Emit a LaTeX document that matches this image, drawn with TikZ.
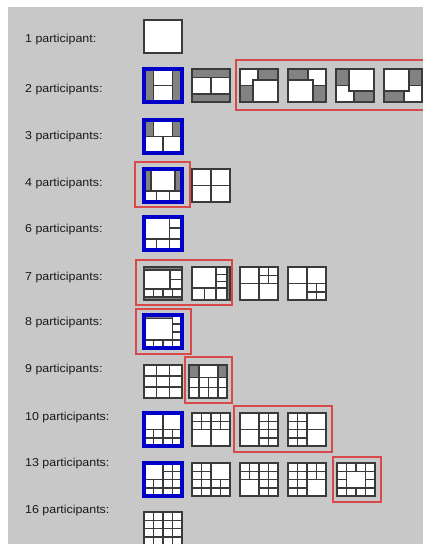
\documentclass[tikz,border=0pt]{standalone}
\usepackage{fontspec}
\setmainfont{Liberation Sans}[FakeStretch=1.08]
\definecolor{bgc}{HTML}{C8C8C8}
\definecolor{icdark}{HTML}{3A3A3A}
\definecolor{icgray}{HTML}{828282}
\definecolor{selblue}{HTML}{0000C8}
\definecolor{selred}{HTML}{D84A4A}
\newcommand\IcBase{\fill[white] (0,0) rectangle (38,33);}
\newcommand\IcEdge{\draw[icline] (0,0) rectangle (38,33);}
\newcommand\IcBlue{\draw[blueframe] (0,0) rectangle (38,33);}
\begin{document}
\begin{tikzpicture}[x=1pt,y=-1pt,
  icline/.style={draw=icdark,line width=1.5pt,line cap=rect},
  graycell/.style={fill=icgray},
  blueframe/.style={draw=selblue,line width=3.6pt},
  redframe/.style={draw=selred,line width=1.3pt},
  lbl/.style={font=\fontsize{11.5}{13}\selectfont,anchor=base west,inner sep=0pt,text=black!90}]
\useasboundingbox (0,0) rectangle (423,544);
\clip (0,0) rectangle (423,544);
\fill[white] (0,0) rectangle (423,544);
\fill[bgc] (8,7) rectangle (423,544);

% labels
\node[lbl] (l1) at (25,42) {1 participant:};
\node[lbl] (l2) at (25,92) {2 participants:};
\node[lbl] (l3) at (25,139) {3 participants:};
\node[lbl] (l4) at (25,186) {4 participants:};
\node[lbl] (l6) at (25,232) {6 participants:};
\node[lbl] (l7) at (25,280) {7 participants:};
\node[lbl] (l8) at (25,325) {8 participants:};
\node[lbl] (l9) at (25,372) {9 participants:};
\node[lbl] (l10) at (25,420) {10 participants:};
\node[lbl] (l13) at (25,466) {13 participants:};
\node[lbl] (l16) at (25,513) {16 participants:};

% red frames
\draw[redframe] (236,60) rectangle (440,110);
\draw[redframe] (135,162) rectangle (190,207);
\draw[redframe] (136,260) rectangle (232,305);
\draw[redframe] (136,309) rectangle (191,354);
\draw[redframe] (185,357) rectangle (232,403);
\draw[redframe] (234,406) rectangle (332,452);
\draw[redframe] (333,457) rectangle (381,502);

% row 1
\begin{scope}[shift={(144,20)}]\IcBase\IcEdge\end{scope}

% row 2
\begin{scope}[shift={(144,69)}]\IcBase
 \fill[graycell] (0,0) rectangle (9.5,33); \fill[graycell] (28.5,0) rectangle (38,33);
 \draw[icline] (9.5,0)--(9.5,33) (28.5,0)--(28.5,33) (9.5,16.5)--(28.5,16.5);
 \IcEdge\IcBlue\end{scope}
\begin{scope}[shift={(192,69)}]\IcBase
 \fill[graycell] (0,0) rectangle (38,8.25); \fill[graycell] (0,24.75) rectangle (38,33);
 \draw[icline] (0,8.25)--(38,8.25) (0,24.75)--(38,24.75) (19,8.25)--(19,24.75);
 \IcEdge\end{scope}
\begin{scope}[shift={(240,69)}]\IcBase
 \fill[graycell] (18,0) rectangle (38,11); \fill[graycell] (0,16.5) rectangle (13,33);
 \draw[icline] (18,0)--(18,11) (13,11)--(38,11) (13,11)--(13,33) (0,16.5)--(13,16.5);
 \IcEdge\end{scope}
\begin{scope}[shift={(288,69)}]\IcBase
 \fill[graycell] (0,0) rectangle (20,11); \fill[graycell] (25,16.5) rectangle (38,33);
 \draw[icline] (20,0)--(20,11) (0,11)--(25,11) (25,11)--(25,33) (25,16.5)--(38,16.5);
 \IcEdge\end{scope}
\begin{scope}[shift={(336,69)}]\IcBase
 \fill[graycell] (0,0) rectangle (13,16.5); \fill[graycell] (18,22) rectangle (38,33);
 \draw[icline] (18,22)--(18,33) (13,22)--(38,22) (13,0)--(13,22) (0,16.5)--(13,16.5);
 \IcEdge\end{scope}
\begin{scope}[shift={(384,69)}]\IcBase
 \fill[graycell] (25,0) rectangle (38,16.5); \fill[graycell] (0,22) rectangle (20,33);
 \draw[icline] (20,22)--(20,33) (0,22)--(25,22) (25,0)--(25,22) (25,16.5)--(38,16.5);
 \IcEdge\end{scope}

% row 3
\begin{scope}[shift={(144,120)}]\IcBase
 \fill[graycell] (0,0) rectangle (9.5,16.5); \fill[graycell] (28.5,0) rectangle (38,16.5);
 \draw[icline] (0,16.5)--(38,16.5) (9.5,0)--(9.5,16.5) (28.5,0)--(28.5,16.5) (19,16.5)--(19,33);
 \IcEdge\IcBlue\end{scope}

% row 4
\begin{scope}[shift={(144,169)}]\IcBase
 \fill[graycell] (0,0) rectangle (7,22); \fill[graycell] (31,0) rectangle (38,22);
 \draw[icline] (0,22)--(38,22) (7,0)--(7,22) (31,0)--(31,22) (12.67,22)--(12.67,33) (25.33,22)--(25.33,33);
 \IcEdge\IcBlue\end{scope}
\begin{scope}[shift={(192,169)}]\IcBase
 \draw[icline] (19,0)--(19,33) (0,16.5)--(38,16.5);
 \IcEdge\end{scope}

% row 6
\begin{scope}[shift={(144,217)}]\IcBase
 \draw[icline] (25.33,0)--(25.33,33) (0,22)--(38,22) (25.33,11)--(38,11) (12.67,22)--(12.67,33);
 \IcEdge\IcBlue\end{scope}

% row 7
\begin{scope}[shift={(144,267)}]\IcBase
 \fill[graycell] (0,0) rectangle (38,3); \fill[graycell] (0,30) rectangle (38,33);
 \draw[icline] (0,3)--(38,3) (0,30)--(38,30) (0,22)--(38,22) (26,3)--(26,22) (26,12.5)--(38,12.5)
   (9.5,22)--(9.5,30) (19,22)--(19,30) (28.5,22)--(28.5,30);
 \IcEdge\end{scope}
\begin{scope}[shift={(192,267)}]\IcBase
 \fill[graycell] (35,0) rectangle (38,33);
 \draw[icline] (35,0)--(35,33) (0,21)--(35,21) (24,0)--(24,21) (24,7.3)--(35,7.3) (24,14.5)--(35,14.5)
   (12.5,21)--(12.5,33) (24,21)--(24,33);
 \IcEdge\end{scope}
\begin{scope}[shift={(240,267)}]\IcBase
 \draw[icline] (19,0)--(19,33) (0,16.5)--(38,16.5) (28.5,0)--(28.5,16.5) (19,8.25)--(38,8.25);
 \IcEdge\end{scope}
\begin{scope}[shift={(288,267)}]\IcBase
 \draw[icline] (19,0)--(19,33) (0,16.5)--(38,16.5) (28.5,16.5)--(28.5,33) (19,24.75)--(38,24.75);
 \IcEdge\end{scope}

% row 8
\begin{scope}[shift={(144,315)}]\IcBase
 \fill[graycell] (0,0) rectangle (28.5,3.5);
 \draw[icline] (0,3.5)--(28.5,3.5) (28.5,0)--(28.5,25) (0,25)--(38,25) (28.5,9)--(38,9) (28.5,17)--(38,17)
   (9.5,25)--(9.5,33) (19,25)--(19,33) (28.5,25)--(28.5,33);
 \IcEdge\IcBlue\end{scope}

% row 9
\begin{scope}[shift={(144,365)}]\IcBase
 \draw[icline] (12.67,0)--(12.67,33) (25.33,0)--(25.33,33) (0,11)--(38,11) (0,22)--(38,22);
 \IcEdge\end{scope}
\begin{scope}[shift={(189,365)}]\IcBase
 \fill[graycell] (0,0) rectangle (10,12.3); \fill[graycell] (29,0) rectangle (38,12.3);
 \draw[icline] (0,12.3)--(38,12.3) (0,22.6)--(38,22.6) (10,0)--(10,33) (29,0)--(29,33) (19.5,12.3)--(19.5,33);
 \IcEdge\end{scope}

% row 10
\begin{scope}[shift={(144,413)}]\IcBase
 \draw[icline] (19,0)--(19,33) (0,16.5)--(38,16.5) (0,24.75)--(38,24.75) (9.5,16.5)--(9.5,33) (28.5,16.5)--(28.5,33);
 \IcEdge\IcBlue\end{scope}
\begin{scope}[shift={(192,413)}]\IcBase
 \draw[icline] (19,0)--(19,33) (0,16.5)--(38,16.5) (0,8.25)--(38,8.25) (9.5,0)--(9.5,16.5) (28.5,0)--(28.5,16.5);
 \IcEdge\end{scope}
\begin{scope}[shift={(240,413)}]\IcBase
 \draw[icline] (19,0)--(19,33) (0,16.5)--(19,16.5) (28.5,0)--(28.5,33) (19,8.25)--(38,8.25) (19,16.5)--(38,16.5) (19,24.75)--(38,24.75);
 \IcEdge\end{scope}
\begin{scope}[shift={(288,413)}]\IcBase
 \draw[icline] (19,0)--(19,33) (0,16.5)--(38,16.5) (9.5,0)--(9.5,33) (0,8.25)--(19,8.25) (0,24.75)--(19,24.75);
 \IcEdge\end{scope}

% row 13
\begin{scope}[shift={(144,463)}]\IcBase
 \draw[icline] (9.5,16.5)--(9.5,33) (19,0)--(19,33) (28.5,0)--(28.5,33) (19,8.25)--(38,8.25) (0,16.5)--(38,16.5) (0,24.75)--(38,24.75);
 \IcEdge\IcBlue\end{scope}
\begin{scope}[shift={(192,463)}]\IcBase
 \draw[icline] (9.5,0)--(9.5,33) (19,0)--(19,33) (28.5,16.5)--(28.5,33) (0,8.25)--(19,8.25) (0,16.5)--(38,16.5) (0,24.75)--(38,24.75);
 \IcEdge\end{scope}
\begin{scope}[shift={(240,463)}]\IcBase
 \draw[icline] (9.5,0)--(9.5,16.5) (19,0)--(19,33) (28.5,0)--(28.5,33) (0,8.25)--(38,8.25) (0,16.5)--(38,16.5) (19,24.75)--(38,24.75);
 \IcEdge\end{scope}
\begin{scope}[shift={(288,463)}]\IcBase
 \draw[icline] (9.5,0)--(9.5,33) (19,0)--(19,33) (28.5,0)--(28.5,16.5) (0,8.25)--(38,8.25) (0,16.5)--(38,16.5) (0,24.75)--(19,24.75);
 \IcEdge\end{scope}
\begin{scope}[shift={(337,463)}]\IcBase
 \draw[icline] (9.5,0)--(9.5,33) (28.5,0)--(28.5,33) (19,0)--(19,8.25) (19,24.75)--(19,33)
   (0,8.25)--(38,8.25) (0,24.75)--(38,24.75) (0,16.5)--(9.5,16.5) (28.5,16.5)--(38,16.5);
 \IcEdge\end{scope}

% row 16
\begin{scope}[shift={(144,512)}]\IcBase
 \draw[icline] (9.5,0)--(9.5,33) (19,0)--(19,33) (28.5,0)--(28.5,33) (0,8.25)--(38,8.25) (0,16.5)--(38,16.5) (0,24.75)--(38,24.75);
 \IcEdge\end{scope}
\end{tikzpicture}
\end{document}
